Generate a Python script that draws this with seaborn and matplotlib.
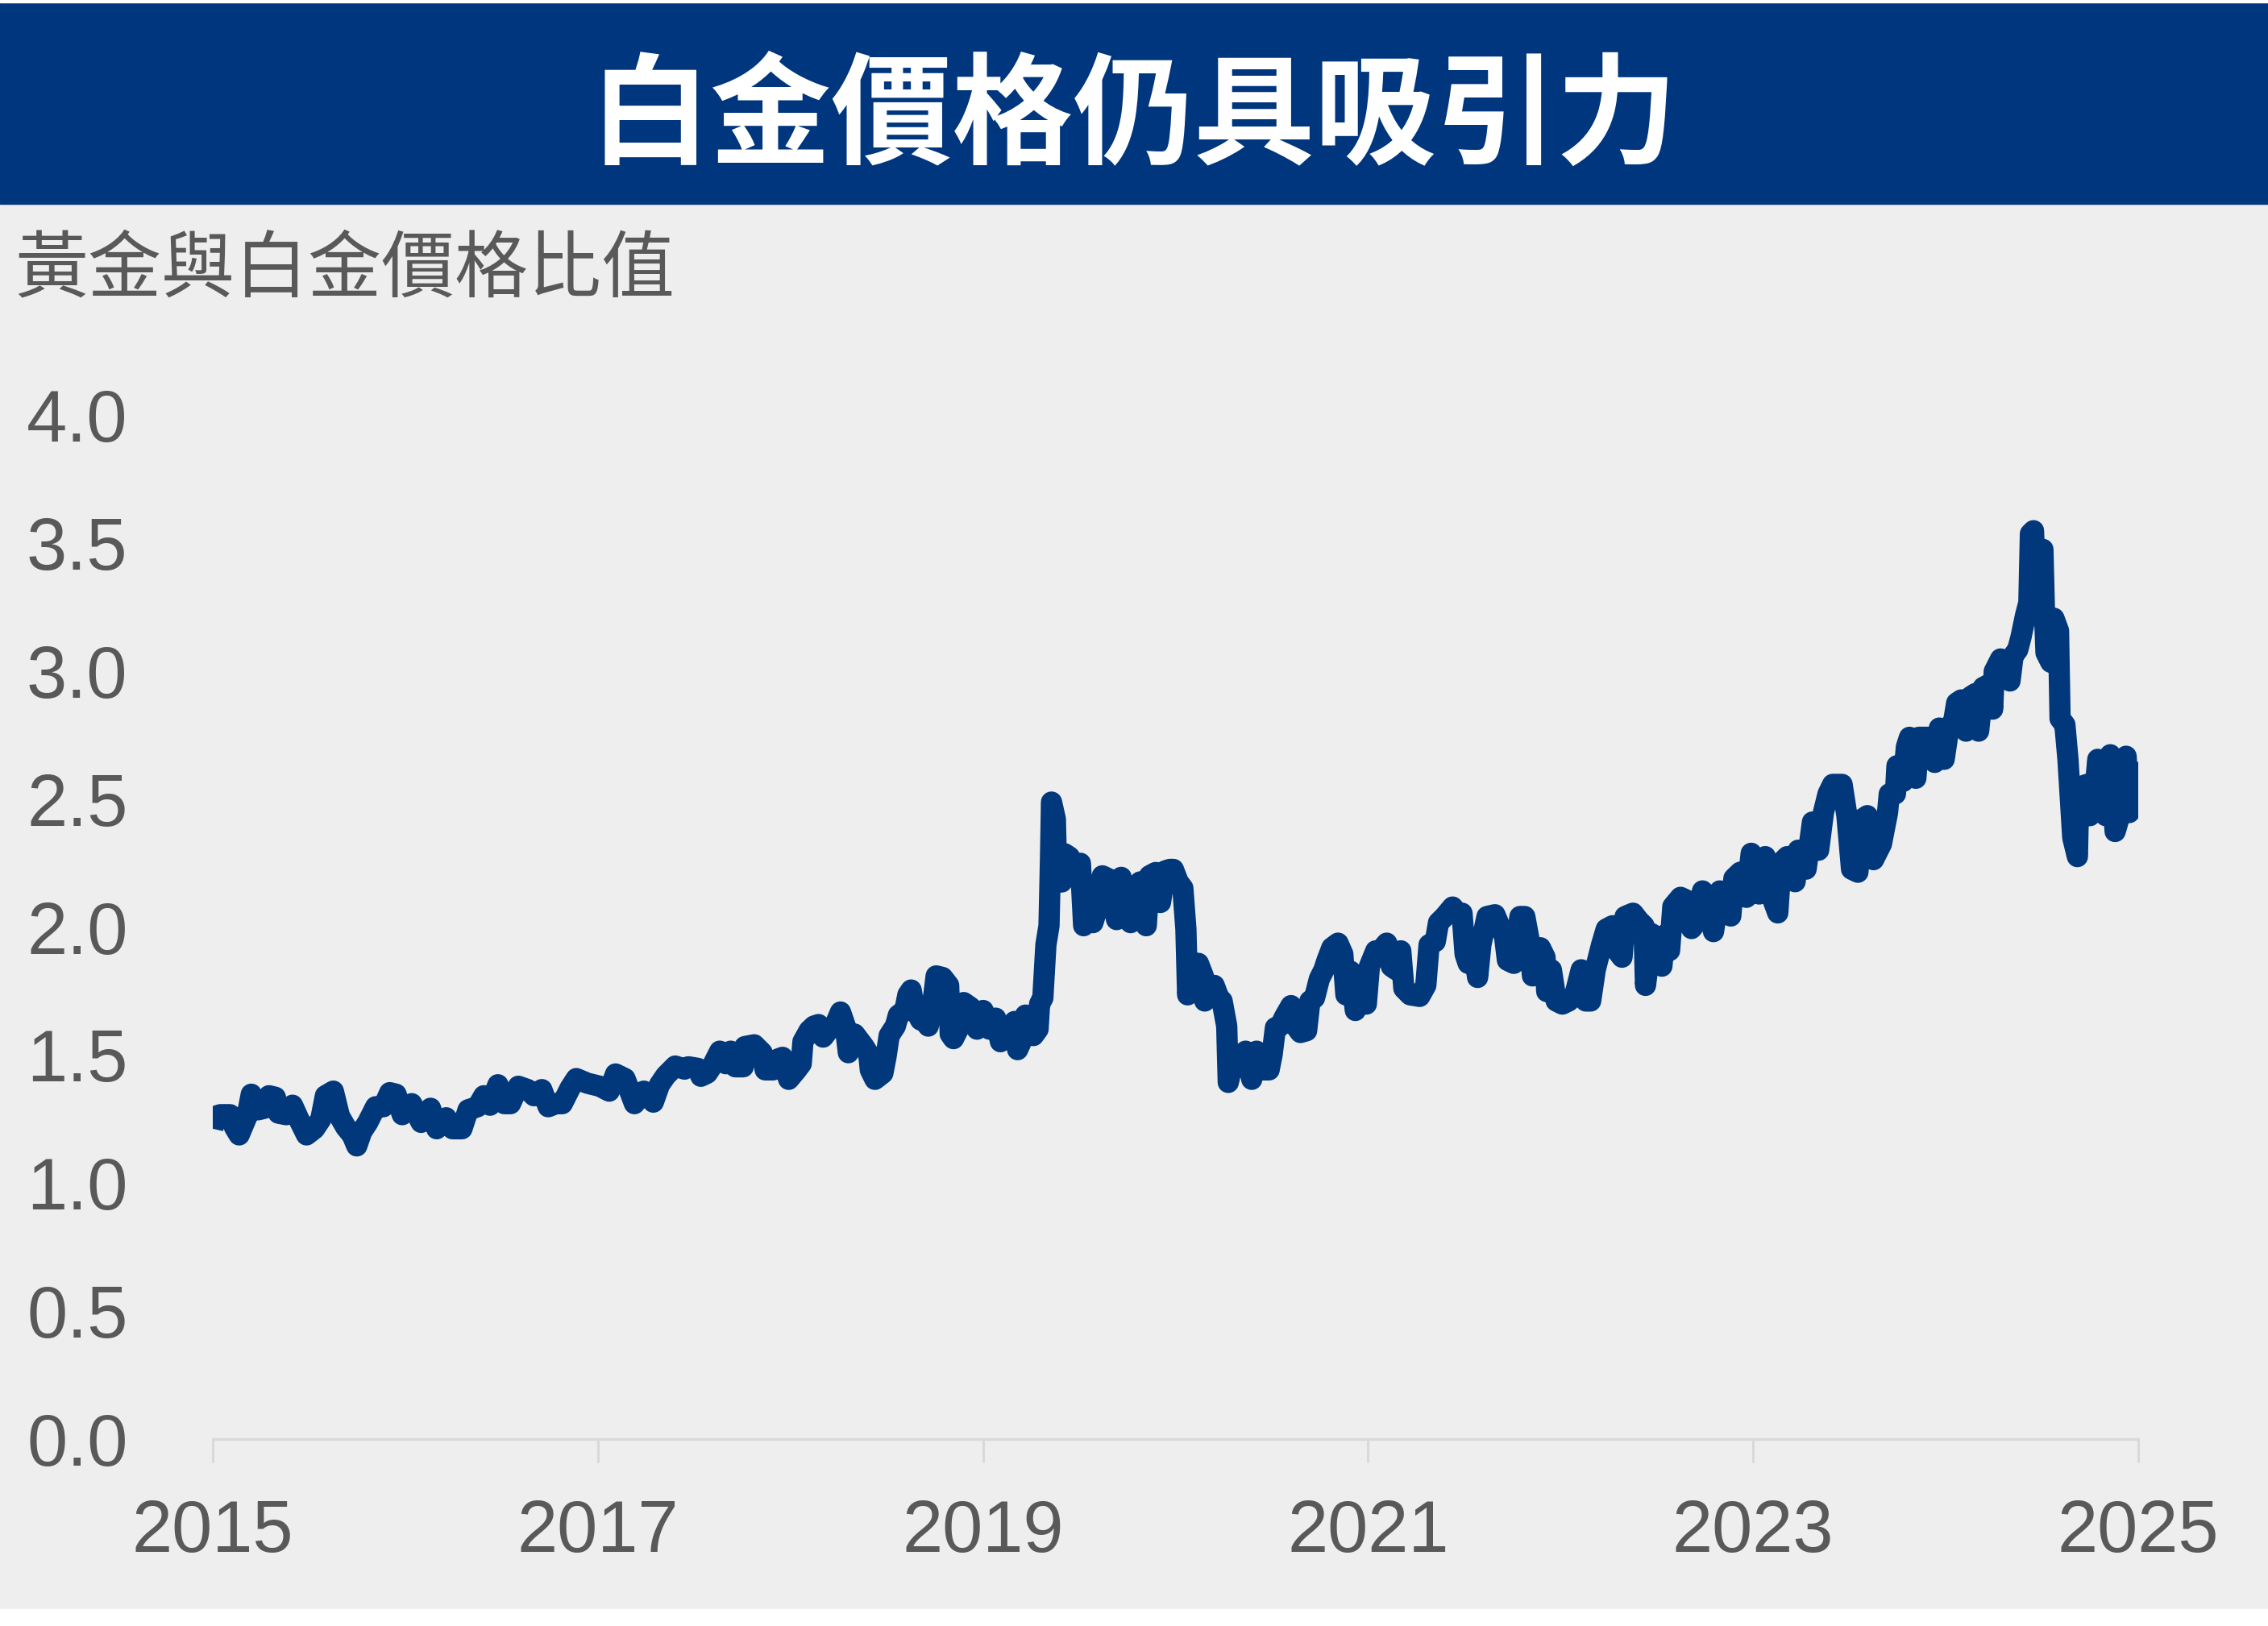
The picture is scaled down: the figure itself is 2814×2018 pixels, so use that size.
import numpy as np
import pandas as pd
import matplotlib
matplotlib.use("Agg")
import matplotlib.pyplot as plt
import seaborn as sns

## Data: gold / platinum price ratio ##
years = [
    2015.000, 2015.015, 2015.040, 2015.090, 2015.113, 2015.137, 2015.178, 2015.200, 2015.235, 2015.268,
    2015.292, 2015.325, 2015.341, 2015.382, 2015.414, 2015.447, 2015.487, 2015.528, 2015.561, 2015.585,
    2015.626, 2015.658, 2015.691, 2015.724, 2015.748, 2015.773, 2015.805, 2015.846, 2015.886, 2015.919,
    2015.952, 2015.984, 2016.033, 2016.082, 2016.131, 2016.163, 2016.212, 2016.245, 2016.294, 2016.326,
    2016.375, 2016.408, 2016.440, 2016.481, 2016.514, 2016.546, 2016.587, 2016.636, 2016.668, 2016.709,
    2016.742, 2016.782, 2016.815, 2016.856, 2016.888, 2016.945, 2017.010, 2017.059, 2017.092, 2017.141,
    2017.190, 2017.239, 2017.288, 2017.320, 2017.353, 2017.402, 2017.450,
    # 2017.5 - 2020
    2017.470, 2017.519, 2017.535, 2017.568, 2017.600, 2017.633, 2017.665, 2017.690, 2017.714, 2017.755,
    2017.763, 2017.812, 2017.853, 2017.869, 2017.910, 2017.934, 2017.959, 2017.991, 2018.032, 2018.056,
    2018.065, 2018.097, 2018.122, 2018.146, 2018.170, 2018.195, 2018.236, 2018.260, 2018.285, 2018.301,
    2018.333, 2018.382, 2018.407, 2018.415, 2018.439, 2018.480, 2018.496, 2018.513, 2018.545, 2018.561,
    2018.594, 2018.610, 2018.627, 2018.643, 2018.676, 2018.700, 2018.716, 2018.741, 2018.757, 2018.790,
    2018.822, 2018.830, 2018.847, 2018.887, 2018.900, 2018.936, 2018.969, 2019.001, 2019.034, 2019.066,
    2019.091, 2019.123, 2019.164, 2019.180, 2019.213, 2019.221, 2019.262, 2019.286, 2019.294, 2019.311,
    2019.327, 2019.343, 2019.351, 2019.356, 2019.376, 2019.384, 2019.409, 2019.425, 2019.449, 2019.465,
    2019.506, 2019.523, 2019.539, 2019.571, 2019.596, 2019.620, 2019.653, 2019.694, 2019.718, 2019.742,
    2019.767, 2019.783, 2019.816, 2019.848, 2019.865, 2019.897, 2019.922, 2019.946, 2019.971,
    # 2020 - 2022.5
    2019.989, 2020.014, 2020.038, 2020.054, 2020.063, 2020.095, 2020.119, 2020.144, 2020.152, 2020.176,
    2020.201, 2020.225, 2020.242, 2020.266, 2020.274, 2020.307, 2020.331, 2020.364, 2020.396, 2020.421,
    2020.453, 2020.486, 2020.502, 2020.519, 2020.543, 2020.567, 2020.600, 2020.624, 2020.649, 2020.681,
    2020.698, 2020.722, 2020.747, 2020.771, 2020.787, 2020.812, 2020.844, 2020.869, 2020.885, 2020.910,
    2020.934, 2020.958, 2020.991, 2021.007, 2021.040, 2021.064, 2021.097, 2021.121, 2021.146, 2021.170,
    2021.186, 2021.219, 2021.268, 2021.300, 2021.317, 2021.349, 2021.366, 2021.398, 2021.439, 2021.463,
    2021.488, 2021.504, 2021.520, 2021.545, 2021.569, 2021.586, 2021.618, 2021.659, 2021.683, 2021.708,
    2021.724, 2021.757, 2021.789, 2021.814, 2021.838, 2021.854, 2021.879, 2021.895, 2021.919, 2021.928,
    2021.952, 2021.977, 2022.009, 2022.042, 2022.074, 2022.107, 2022.131, 2022.156, 2022.180, 2022.213,
    2022.237, 2022.270, 2022.294, 2022.319, 2022.335, 2022.376, 2022.408, 2022.433, 2022.441, 2022.473,
    # 2022.5 - 2025
    2022.493, 2022.526, 2022.542, 2022.566, 2022.583, 2022.623, 2022.656, 2022.680, 2022.705, 2022.737,
    2022.770, 2022.794, 2022.827, 2022.860, 2022.884, 2022.900, 2022.933, 2022.965, 2022.990, 2023.031,
    2023.063, 2023.104, 2023.128, 2023.145, 2023.177, 2023.218, 2023.234, 2023.275, 2023.308, 2023.340,
    2023.365, 2023.389, 2023.413, 2023.462, 2023.487, 2023.511, 2023.544, 2023.568, 2023.593, 2023.625,
    2023.666, 2023.698, 2023.707, 2023.739, 2023.747, 2023.780, 2023.796, 2023.812, 2023.845, 2023.861,
    2023.910, 2023.943, 2023.967, 2023.992, 2024.016, 2024.041, 2024.057, 2024.081, 2024.106, 2024.130,
    2024.155, 2024.171, 2024.195, 2024.228, 2024.244, 2024.252, 2024.285, 2024.309, 2024.334, 2024.350,
    2024.374, 2024.391, 2024.415, 2024.432, 2024.440, 2024.456, 2024.472, 2024.489, 2024.505, 2024.513,
    2024.521, 2024.546, 2024.562, 2024.586, 2024.594, 2024.619, 2024.635, 2024.643, 2024.660, 2024.684,
    2024.692, 2024.733, 2024.749, 2024.765, 2024.790, 2024.831, 2024.855, 2024.880, 2024.904, 2024.937,
    2024.953, 2024.977, 2025.002,
]

ratio = [
    1.212, 1.261, 1.267, 1.267, 1.218, 1.188, 1.261, 1.347, 1.286, 1.292,
    1.341, 1.335, 1.273, 1.267, 1.304, 1.249, 1.188, 1.212, 1.249, 1.341,
    1.359, 1.261, 1.218, 1.188, 1.145, 1.200, 1.237, 1.298, 1.298, 1.353,
    1.347, 1.267, 1.310, 1.237, 1.292, 1.212, 1.255, 1.212, 1.212, 1.286,
    1.298, 1.341, 1.304, 1.384, 1.310, 1.310, 1.378, 1.365, 1.341, 1.365,
    1.298, 1.310, 1.310, 1.371, 1.408, 1.390, 1.378, 1.359, 1.426, 1.408,
    1.310, 1.359, 1.316, 1.384, 1.420, 1.457, 1.445,
    1.454, 1.448, 1.417, 1.429, 1.466, 1.515, 1.466, 1.515, 1.454, 1.454,
    1.533, 1.540, 1.509, 1.442, 1.442, 1.484, 1.491, 1.405, 1.442, 1.466,
    1.552, 1.595, 1.613, 1.619, 1.570, 1.595, 1.625, 1.668, 1.613, 1.509,
    1.582, 1.533, 1.503, 1.442, 1.405, 1.429, 1.491, 1.576, 1.613, 1.656,
    1.674, 1.735, 1.754, 1.686, 1.637, 1.631, 1.613, 1.711, 1.809, 1.803,
    1.772, 1.582, 1.564, 1.625, 1.705, 1.686, 1.601, 1.674, 1.601, 1.644,
    1.552, 1.595, 1.631, 1.521, 1.576, 1.656, 1.576, 1.601, 1.699, 1.723,
    1.931, 2.005, 2.274, 2.488, 2.421, 2.176, 2.176, 2.286, 2.274, 2.237,
    2.249, 2.005, 2.029, 2.017, 2.078, 2.200, 2.188, 2.029, 2.194, 2.041,
    2.017, 2.103, 2.176, 2.005, 2.200, 2.213, 2.096, 2.219, 2.225,
    2.225, 2.176, 2.152, 1.992, 1.735, 1.858, 1.858, 1.809, 1.711, 1.772,
    1.772, 1.723, 1.711, 1.613, 1.393, 1.503, 1.454, 1.515, 1.405, 1.515,
    1.442, 1.442, 1.503, 1.607, 1.613, 1.650, 1.693, 1.613, 1.588, 1.595,
    1.711, 1.723, 1.797, 1.833, 1.870, 1.919, 1.937, 1.894, 1.735, 1.827,
    1.674, 1.778, 1.699, 1.846, 1.907, 1.907, 1.937, 1.846, 1.833, 1.907,
    1.760, 1.735, 1.729, 1.772, 1.931, 1.943, 2.017, 2.041, 2.078, 2.054,
    2.054, 1.894, 1.858, 1.931, 1.803, 1.931, 2.041, 2.048, 2.005, 1.968,
    1.870, 1.858, 2.041, 2.041, 1.943, 1.809, 1.907, 1.919, 1.882, 1.748,
    1.833, 1.711, 1.699, 1.711, 1.735, 1.833, 1.711, 1.711, 1.833, 1.931,
    1.992, 2.005, 1.907, 1.882, 2.041, 2.054, 2.023, 2.005, 1.772, 1.974,
    1.933, 1.847, 1.969, 1.908, 2.080, 2.116, 2.104, 1.994, 2.018, 2.141,
    2.116, 1.982, 2.141, 2.104, 2.043, 2.190, 2.214, 2.116, 2.288, 2.129,
    2.275, 2.104, 2.055, 2.251, 2.275, 2.177, 2.300, 2.226, 2.410, 2.300,
    2.447, 2.520, 2.557, 2.557, 2.435, 2.226, 2.214, 2.422, 2.435, 2.263,
    2.324, 2.447, 2.520, 2.520, 2.630, 2.569, 2.704, 2.741, 2.581, 2.741,
    2.741, 2.643, 2.777, 2.655, 2.777, 2.802, 2.875, 2.887, 2.765, 2.900,
    2.912, 2.765, 2.936, 2.949, 2.851, 2.998, 3.047, 2.985, 2.961, 3.059,
    3.083, 3.132, 3.218, 3.267, 3.536, 3.548, 3.242, 3.463, 3.475, 3.230,
    3.071, 3.034, 3.206, 3.157, 2.814, 2.790, 2.655, 2.557, 2.349, 2.275,
    2.545, 2.557, 2.435, 2.447, 2.655, 2.435, 2.673, 2.373, 2.435, 2.667,
    2.447, 2.606, 2.471,
]

x_ticks = [2015, 2017, 2019, 2021, 2023, 2025]
y_ticks = [0.0, 0.5, 1.0, 1.5, 2.0, 2.5, 3.0, 3.5, 4.0]

title = "白金價格仍具吸引力"
y_title = "黃金與白金價格比值"

## colours ##
band_color = "#00367D"
line_color = "#00387B"
bg_color = "#EEEEEE"
text_color = "#595959"
axis_color = "#D9D9D9"

sns.set_style("white")
plt.rcParams['font.family'] = ['Liberation Sans', 'Noto Sans CJK TC', 'DejaVu Sans']

W, H = 2814, 2018
fig = plt.figure(figsize=(W / 100, H / 100), dpi=100)
fig.patch.set_facecolor(bg_color)

# title band and white edges
fig.add_artist(plt.Rectangle((0, 1 - 253 / H), 1, 253 / H, transform=fig.transFigure,
                             color=band_color, zorder=0))
fig.add_artist(plt.Rectangle((0, 1 - 3 / H), 1, 3 / H, transform=fig.transFigure,
                             color="white", zorder=1))
fig.add_artist(plt.Rectangle((0, 0), 1, 21 / H, transform=fig.transFigure,
                             color="white", zorder=1))

fig.text(0.5, 1 - 148 / H, title, ha='center', va='center', color='white',
         fontsize=108, fontweight='bold', family=['Noto Sans CJK TC', 'DejaVu Sans'])
fig.text(18 / W, 1 - 336 / H, y_title, ha='left', va='center', color=text_color,
         fontsize=65.5, fontweight='light', family=['Noto Sans CJK TC', 'DejaVu Sans'])

ax = fig.add_axes([264 / W, 1 - 1786 / H, (2653 - 264) / W, (1786 - 515) / H])
ax.set_facecolor(bg_color)

df = pd.DataFrame({"year": years, "ratio": ratio})
sns.lineplot(data=df, x="year", y="ratio", ax=ax, color=line_color, linewidth=19,
             solid_joinstyle='round', solid_capstyle='butt', estimator=None, sort=False)

ax.set_xlim(2015, 2025)
ax.set_ylim(0, 4)
ax.set_xticks(x_ticks)
ax.set_xticklabels([str(t) for t in x_ticks])
ax.set_yticks(y_ticks)
ax.set_yticklabels(["%.1f" % t for t in y_ticks])
ax.set_xlabel("")
ax.set_ylabel("")

for side in ['top', 'right', 'left']:
    ax.spines[side].set_visible(False)
ax.spines['bottom'].set_color(axis_color)
ax.spines['bottom'].set_linewidth(2.4)

# seaborn's white style hides tick marks; the reference shows them on x
ax.tick_params(axis='x', bottom=True, direction='out', colors=axis_color, length=21,
               width=2.2, pad=32, labelsize=65, labelcolor=text_color)
ax.tick_params(axis='y', left=False, length=0, pad=76, labelsize=65, labelcolor=text_color)
ax.grid(False)

fig.savefig("out.png", dpi=100, facecolor=fig.get_facecolor())
